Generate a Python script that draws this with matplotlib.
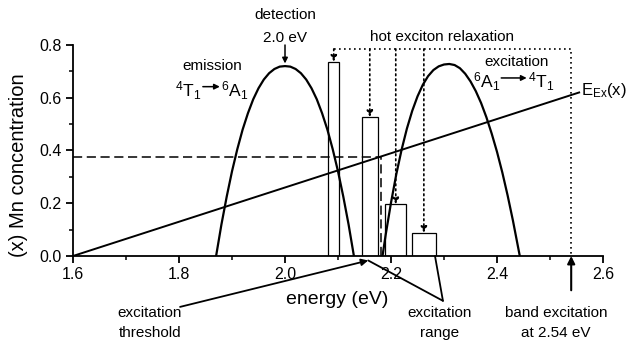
import matplotlib.pyplot as plt
from matplotlib.ticker import MultipleLocator

plt.rcParams['font.family'] = ['Liberation Sans', 'DejaVu Sans']
plt.rcParams['mathtext.fontset'] = 'custom'
plt.rcParams['mathtext.rm'] = 'Liberation Sans'
plt.rcParams['mathtext.it'] = 'Liberation Sans:italic'
plt.rcParams['mathtext.bf'] = 'Liberation Sans:bold'

# emission band 4T1 -> 6A1
em_energy = [1.87, 1.88, 1.89, 1.90, 1.91, 1.92, 1.93, 1.94, 1.95, 1.96,
             1.97, 1.98, 1.99, 2.00, 2.01, 2.02, 2.03, 2.04, 2.05, 2.06,
             2.07, 2.08, 2.09, 2.10, 2.11, 2.12, 2.13]
em_conc = [0.0, 0.119, 0.225, 0.321, 0.405, 0.479, 0.541, 0.594, 0.636,
           0.669, 0.693, 0.709, 0.718, 0.72, 0.718, 0.709, 0.693, 0.669,
           0.636, 0.594, 0.541, 0.479, 0.405, 0.321, 0.225, 0.119, 0.0]

# excitation band 6A1 -> 4T1
ex_energy = [2.184, 2.19, 2.20, 2.21, 2.22, 2.23, 2.24, 2.25, 2.26, 2.27,
             2.28, 2.29, 2.30, 2.31, 2.32, 2.33, 2.34, 2.35, 2.36, 2.37,
             2.38, 2.39, 2.40, 2.41, 2.42, 2.43, 2.443]
ex_conc = [0.0, 0.081, 0.202, 0.310, 0.403, 0.483, 0.550, 0.605, 0.649,
           0.682, 0.705, 0.719, 0.726, 0.728, 0.724, 0.712, 0.691, 0.662,
           0.625, 0.580, 0.526, 0.464, 0.395, 0.317, 0.230, 0.135, 0.0]

# E_Ex(x) line
eex_energy = [1.6, 2.555]
eex_conc = [0.0, 0.62]

# excitation threshold
thr_energy = 2.182
thr_conc = 0.375

# hot exciton relaxation bars
bar_energy = [2.092, 2.160, 2.209, 2.262]
bar_width = [0.020, 0.030, 0.039, 0.044]
bar_height = [0.737, 0.527, 0.196, 0.088]

band_energy = 2.54
relax_top = 0.785

fig = plt.figure(figsize=(6.36, 3.45), dpi=100)
ax = fig.add_axes([0.1148, 0.258, 0.8333, 0.6116])

ax.bar(bar_energy, bar_height, width=bar_width, facecolor='none',
       edgecolor='black', linewidth=0.9, zorder=2)

ax.plot(em_energy, em_conc, color='black', lw=1.6, zorder=3)
ax.plot(ex_energy, ex_conc, color='black', lw=1.6, zorder=3)
ax.plot(eex_energy, eex_conc, color='black', lw=1.4, zorder=3)

# threshold construction
ax.plot([1.6, thr_energy], [thr_conc, thr_conc], color='black', lw=1.1,
        ls=(0, (6, 3)))
ax.plot([thr_energy, thr_energy], [0, thr_conc], color='black', lw=1.1,
        ls=(0, (6, 3)))

# relaxation path
dot = (0, (1, 2))
ax.plot([bar_energy[0], band_energy, band_energy],
        [relax_top, relax_top, 0], color='black', lw=1.2, ls=dot)
for e, h in zip(bar_energy, bar_height):
    ax.annotate('', xy=(e, h), xytext=(e, relax_top),
                arrowprops=dict(arrowstyle='-|>', color='black', lw=1.2,
                                ls=dot, mutation_scale=9,
                                shrinkA=0, shrinkB=0))

ax.set_xlim(1.6, 2.6)
ax.set_ylim(0, 0.8)
ax.xaxis.set_minor_locator(MultipleLocator(0.1))
ax.yaxis.set_minor_locator(MultipleLocator(0.1))
ax.set_xticks([1.6, 1.8, 2.0, 2.2, 2.4, 2.6])
ax.set_xticklabels(['1.6', '1.8', '2.0', '2.2', '2.4', '2.6'])
ax.set_yticks([0.0, 0.2, 0.4, 0.6, 0.8])
ax.set_yticklabels(['0.0', '0.2', '0.4', '0.6', '0.8'])
for s in ['top', 'right']:
    ax.spines[s].set_visible(False)
for s in ['left', 'bottom']:
    ax.spines[s].set_linewidth(1.3)
ax.tick_params(which='major', direction='out', length=5, width=1.3,
               labelsize=11.5, pad=3)
ax.tick_params(which='minor', direction='out', length=3, width=1.1)

ax.set_ylabel('(x) Mn concentration', fontsize=14.5)
ax.yaxis.set_label_coords(-0.085, 0.43)

arrow_kw = dict(arrowstyle='-|>', color='black', lw=1.1,
                mutation_scale=8, shrinkA=0, shrinkB=0)

# labels inside the plot
ax.text(2.0, 0.914, 'detection', ha='center', va='center', fontsize=11)
ax.text(2.0, 0.827, '2.0 eV', ha='center', va='center', fontsize=11)
ax.annotate('', xy=(2.0, 0.73), xytext=(2.0, 0.80), arrowprops=arrow_kw,
            annotation_clip=False)

ax.text(1.862, 0.72, 'emission', ha='center', va='center', fontsize=11)
ax.text(1.843, 0.627, r'$^4$T$_1$', ha='right', va='center', fontsize=12.5)
ax.text(1.880, 0.627, r'$^6$A$_1$', ha='left', va='center', fontsize=12.5)
ax.annotate('', xy=(1.877, 0.642), xytext=(1.845, 0.642),
            arrowprops=arrow_kw)

ax.text(2.296, 0.83, 'hot exciton relaxation', ha='center', va='center',
        fontsize=11, clip_on=False)

ax.text(2.436, 0.735, 'excitation', ha='center', va='center', fontsize=11)
ax.text(2.406, 0.66, r'$^6$A$_1$', ha='right', va='center', fontsize=12.5)
ax.text(2.458, 0.66, r'$^4$T$_1$', ha='left', va='center', fontsize=12.5)
ax.annotate('', xy=(2.456, 0.675), xytext=(2.408, 0.675),
            arrowprops=arrow_kw)

ax.text(2.558, 0.626, r'E$_{\rm Ex}$(x)', ha='left', va='center',
        fontsize=12, clip_on=False)

# labels below the axis
ax.text(2.098, -0.165, 'energy (eV)', ha='center', va='center',
        fontsize=14, clip_on=False)
ax.text(1.745, -0.217, 'excitation', ha='center', va='center', fontsize=11)
ax.text(1.745, -0.293, 'threshold', ha='center', va='center', fontsize=11)
ax.text(2.292, -0.217, 'excitation', ha='center', va='center', fontsize=11)
ax.text(2.292, -0.293, 'range', ha='center', va='center', fontsize=11)
ax.text(2.511, -0.217, 'band excitation', ha='center', va='center',
        fontsize=11)
ax.text(2.511, -0.293, 'at 2.54 eV', ha='center', va='center', fontsize=11)

ax.annotate('', xy=(2.157, -0.017), xytext=(1.802, -0.193),
            arrowprops=dict(arrowstyle='-|>', color='black', lw=1.3,
                            mutation_scale=10, shrinkA=0, shrinkB=0),
            annotation_clip=False)
ax.annotate('', xy=(2.157, -0.017), xytext=(2.298, -0.17),
            arrowprops=dict(arrowstyle='-', color='black', lw=1.3,
                            shrinkA=0, shrinkB=0),
            annotation_clip=False)
ax.annotate('', xy=(2.283, 0.0), xytext=(2.298, -0.17),
            arrowprops=dict(arrowstyle='-', color='black', lw=1.3,
                            shrinkA=0, shrinkB=0),
            annotation_clip=False)
ax.annotate('', xy=(band_energy, 0.0), xytext=(band_energy, -0.13),
            arrowprops=dict(arrowstyle='-|>', color='black', lw=1.5,
                            mutation_scale=11, shrinkA=0, shrinkB=0),
            annotation_clip=False)

fig.savefig('out.png', dpi=100)
